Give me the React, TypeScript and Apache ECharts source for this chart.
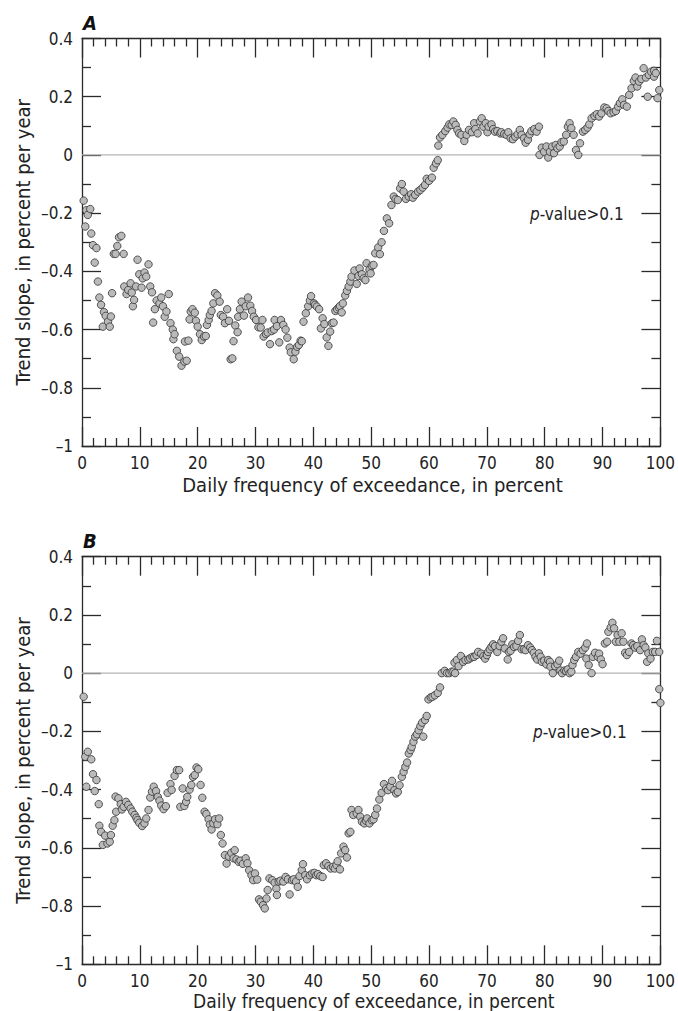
import React, { useEffect, useRef } from "react";
import * as echarts from "echarts";

const FONT = '"Liberation Sans Narrow", "Arial Narrow", "DejaVu Sans Condensed", sans-serif';
const INK = "#222";

const xTicks = { min: 0, max: 100, interval: 10 };
const yTicks = { min: -1, max: 0.4, interval: 0.2 };

const yTitle = "Trend slope, in percent per year";
const xTitle = "Daily frequency of exceedance, in percent";
const note = "p-value>0.1";
const panelLabels = ["A", "B"];

// Panel A: [daily frequency of exceedance (%), trend slope (% per year)]
const slopeA: [number, number][] = [
  [0.29,-0.157],[0.57,-0.246],[0.75,-0.19],[1.0,-0.206],[1.43,-0.186],[1.6,-0.27],[1.9,-0.31],[2.2,-0.37],[2.5,-0.32],
  [2.75,-0.435],[3.0,-0.49],[3.3,-0.515],[3.6,-0.59],[3.8,-0.54],[4.1,-0.553],[4.5,-0.573],[4.8,-0.59],[5.0,-0.555],
  [5.2,-0.475],[5.5,-0.34],[5.8,-0.34],[6.1,-0.313],[6.4,-0.283],[6.8,-0.278],[7.2,-0.34],[7.3,-0.452],[7.7,-0.478],
  [8.0,-0.464],[8.4,-0.441],[8.6,-0.473],[8.8,-0.52],[9.0,-0.498],[9.35,-0.452],[9.6,-0.36],[9.9,-0.41],[10.3,-0.456],
  [10.5,-0.424],[10.8,-0.404],[11.1,-0.418],[11.5,-0.376],[11.8,-0.452],[12.1,-0.472],[12.3,-0.576],[12.6,-0.53],
  [12.9,-0.5],[13.4,-0.51],[13.7,-0.49],[14.0,-0.52],[14.3,-0.556],[14.6,-0.538],[15.0,-0.478],[15.3,-0.578],[15.7,-0.6],
  [15.8,-0.633],[16.0,-0.616],[16.4,-0.673],[16.8,-0.693],[17.2,-0.724],[17.7,-0.71],[17.8,-0.641],[18.1,-0.707],
  [18.4,-0.638],[18.6,-0.565],[18.8,-0.538],[19.1,-0.53],[19.5,-0.542],[19.7,-0.57],[20.0,-0.59],[20.4,-0.616],
  [20.7,-0.636],[21.1,-0.624],[21.4,-0.622],[21.6,-0.584],[21.9,-0.567],[22.1,-0.55],[22.4,-0.536],[22.7,-0.51],
  [23.0,-0.475],[23.4,-0.483],[23.8,-0.504],[24.0,-0.55],[24.4,-0.556],[24.7,-0.578],[25.1,-0.53],[25.4,-0.57],
  [25.7,-0.702],[26.0,-0.699],[26.2,-0.64],[26.5,-0.586],[26.9,-0.609],[27.0,-0.556],[27.3,-0.53],[27.6,-0.504],
  [28.0,-0.552],[28.3,-0.52],[28.7,-0.49],[29.1,-0.518],[29.4,-0.536],[29.7,-0.556],[30.1,-0.567],[30.5,-0.592],
  [30.9,-0.593],[31.2,-0.567],[31.4,-0.624],[31.8,-0.615],[32.1,-0.61],[32.5,-0.65],[32.8,-0.605],[33.2,-0.6],
  [33.3,-0.567],[33.7,-0.588],[34.1,-0.644],[34.4,-0.567],[34.8,-0.584],[35.2,-0.6],[35.5,-0.628],[35.9,-0.662],
  [36.1,-0.678],[36.6,-0.702],[36.9,-0.676],[37.2,-0.659],[37.5,-0.653],[37.8,-0.638],[38.0,-0.64],[38.3,-0.573],
  [38.7,-0.544],[39.1,-0.52],[39.4,-0.5],[39.6,-0.485],[40.1,-0.51],[40.3,-0.515],[40.6,-0.521],[41.0,-0.53],
  [41.3,-0.596],[41.6,-0.561],[41.9,-0.581],[42.3,-0.627],[42.6,-0.656],[42.9,-0.607],[43.2,-0.578],[43.5,-0.576],
  [43.8,-0.536],[44.1,-0.53],[44.4,-0.524],[44.6,-0.519],[44.9,-0.541],[45.1,-0.51],[45.5,-0.483],[45.8,-0.467],
  [46.1,-0.452],[46.4,-0.435],[46.6,-0.418],[47.1,-0.397],[47.5,-0.443],[47.8,-0.416],[48.0,-0.39],[48.4,-0.41],
  [48.7,-0.424],[49.0,-0.43],[49.2,-0.372],[49.7,-0.395],[49.9,-0.407],[50.1,-0.381],[50.4,-0.378],[50.7,-0.338],
  [51.2,-0.318],[51.5,-0.341],[51.8,-0.3],[52.2,-0.261],[52.7,-0.218],[53.1,-0.235],[53.5,-0.172],[53.9,-0.143],
  [54.2,-0.152],[54.6,-0.155],[55.0,-0.115],[55.3,-0.1],[55.6,-0.126],[56.0,-0.151],[56.5,-0.143],[56.9,-0.135],
  [57.2,-0.147],[57.6,-0.137],[58.1,-0.126],[58.5,-0.12],[58.9,-0.112],[59.3,-0.103],[59.6,-0.082],[60.0,-0.089],
  [60.5,-0.078],[60.8,-0.044],[61.2,-0.029],[61.5,-0.018],[61.6,0.032],[61.9,0.06],[62.3,0.069],[62.8,0.082],
  [63.2,0.094],[63.5,0.105],[63.9,0.103],[64.2,0.115],[64.6,0.103],[64.9,0.086],[65.2,0.074],[65.6,0.069],
  [66.1,0.048],[66.5,0.069],[66.9,0.086],[67.4,0.078],[67.8,0.109],[68.0,0.089],[68.4,0.074],[68.8,0.115],
  [69.1,0.126],[69.4,0.097],[69.8,0.109],[70.1,0.078],[70.3,0.097],[70.8,0.105],[71.1,0.089],[71.4,0.08],
  [71.8,0.082],[72.3,0.074],[72.5,0.078],[73.0,0.072],[73.4,0.069],[73.7,0.078],[74.1,0.057],[74.5,0.054],
  [74.9,0.063],[75.3,0.071],[75.7,0.086],[76.0,0.069],[76.4,0.057],[76.7,0.042],[77.1,0.052],[77.4,0.071],
  [77.7,0.082],[78.2,0.089],[78.6,0.08],[79.0,0.097],[79.1,0.0],[79.5,0.025],[79.9,0.011],[80.3,0.029],
  [80.6,-0.009],[80.9,0.011],[81.3,0.029],[81.6,0.006],[81.9,0.034],[82.2,0.023],[82.6,0.029],[82.9,0.044],
  [83.3,0.046],[83.7,0.069],[84.0,0.097],[84.3,0.109],[84.6,0.092],[85.0,0.069],[85.4,0.017],[85.8,0.0],
  [86.1,0.04],[86.6,0.08],[87.0,0.086],[87.4,0.094],[87.7,0.105],[88.1,0.126],[88.6,0.134],[89.0,0.14],
  [89.4,0.132],[89.8,0.143],[90.3,0.163],[90.7,0.16],[91.0,0.151],[91.4,0.143],[91.9,0.147],[92.3,0.151],
  [92.7,0.166],[93.0,0.178],[93.4,0.191],[93.7,0.172],[94.2,0.166],[94.6,0.206],[95.0,0.229],[95.4,0.254],
  [95.7,0.266],[96.0,0.235],[96.3,0.252],[96.7,0.261],[97.1,0.298],[97.5,0.266],[97.8,0.2],[98.0,0.275],
  [98.4,0.286],[98.9,0.269],[98.9,0.289],[99.2,0.281],[99.5,0.195],[99.8,0.223]
];

// Panel B
const slopeB: [number, number][] = [
  [0.29,-0.081],[0.57,-0.287],[0.75,-0.39],[1.0,-0.27],[1.6,-0.296],[1.9,-0.347],[2.2,-0.405],[2.5,-0.367],
  [2.9,-0.45],[3.0,-0.524],[3.3,-0.545],[3.6,-0.59],[4.0,-0.558],[4.4,-0.585],[4.8,-0.579],[5.0,-0.556],
  [5.3,-0.524],[5.6,-0.505],[5.8,-0.424],[5.9,-0.476],[6.3,-0.43],[6.7,-0.45],[6.9,-0.468],[7.2,-0.459],
  [7.6,-0.442],[8.0,-0.453],[8.4,-0.465],[8.7,-0.476],[9.1,-0.487],[9.4,-0.497],[9.6,-0.505],[9.9,-0.514],
  [10.4,-0.525],[10.8,-0.516],[11.1,-0.499],[11.5,-0.47],[11.8,-0.427],[12.1,-0.407],[12.4,-0.39],[12.8,-0.405],
  [13.1,-0.425],[13.4,-0.438],[13.7,-0.455],[14.1,-0.467],[14.5,-0.457],[14.8,-0.411],[15.3,-0.381],[15.5,-0.401],
  [16.0,-0.353],[16.4,-0.333],[16.8,-0.333],[17.0,-0.459],[17.4,-0.396],[17.7,-0.456],[18.0,-0.442],[18.2,-0.425],
  [18.6,-0.4],[18.9,-0.384],[19.2,-0.356],[19.5,-0.35],[19.8,-0.324],[20.1,-0.33],[20.5,-0.384],[20.8,-0.428],
  [21.2,-0.476],[21.5,-0.484],[21.9,-0.502],[22.1,-0.52],[22.4,-0.537],[22.7,-0.516],[23.0,-0.502],[23.4,-0.519],
  [23.7,-0.499],[24.0,-0.556],[24.3,-0.585],[24.7,-0.625],[25.0,-0.654],[25.4,-0.63],[25.8,-0.617],[26.2,-0.636],
  [26.4,-0.608],[26.7,-0.64],[27.1,-0.648],[27.4,-0.644],[27.8,-0.655],[28.3,-0.636],[28.6,-0.653],[28.9,-0.677],
  [29.3,-0.694],[29.6,-0.711],[29.9,-0.688],[30.3,-0.709],[30.6,-0.777],[30.9,-0.785],[31.3,-0.797],[31.6,-0.808],
  [31.9,-0.774],[32.1,-0.745],[32.4,-0.705],[32.9,-0.711],[33.3,-0.72],[33.6,-0.74],[33.7,-0.762],[34.0,-0.716],
  [34.3,-0.713],[34.8,-0.716],[35.2,-0.7],[35.6,-0.708],[35.9,-0.76],[36.3,-0.711],[36.6,-0.708],[37.0,-0.716],
  [37.3,-0.734],[37.6,-0.697],[38.0,-0.676],[38.2,-0.656],[38.6,-0.694],[38.9,-0.708],[39.4,-0.694],[39.8,-0.688],
  [40.2,-0.686],[40.5,-0.694],[40.8,-0.69],[41.2,-0.697],[41.6,-0.7],[41.8,-0.659],[42.2,-0.653],[42.6,-0.663],
  [43.0,-0.671],[43.4,-0.665],[43.7,-0.671],[44.0,-0.659],[44.2,-0.646],[44.6,-0.674],[44.8,-0.619],[45.2,-0.596],
  [45.5,-0.608],[45.8,-0.633],[46.1,-0.55],[46.4,-0.545],[46.6,-0.47],[46.9,-0.487],[47.5,-0.482],[47.8,-0.47],
  [48.1,-0.493],[48.4,-0.51],[48.8,-0.516],[49.1,-0.507],[49.3,-0.499],[49.7,-0.516],[50.1,-0.505],[50.4,-0.502],
  [50.7,-0.487],[51.0,-0.465],[51.4,-0.434],[51.8,-0.411],[52.2,-0.381],[52.6,-0.396],[52.9,-0.402],[53.3,-0.39],
  [53.6,-0.37],[54.0,-0.402],[54.3,-0.413],[54.6,-0.408],[54.9,-0.385],[55.3,-0.356],[55.6,-0.339],[55.9,-0.322],
  [56.2,-0.307],[56.5,-0.276],[56.8,-0.264],[57.0,-0.253],[57.3,-0.236],[57.6,-0.218],[57.9,-0.21],[58.2,-0.196],
  [58.5,-0.182],[58.8,-0.17],[59.0,-0.218],[59.3,-0.161],[59.6,-0.147],[59.9,-0.09],[60.3,-0.083],[60.6,-0.081],
  [61.0,-0.076],[61.5,-0.068],[61.9,-0.049],[62.2,0.0],[62.7,0.008],[63.1,0.0],[63.5,0.0],[63.9,0.005],
  [64.2,0.005],[64.4,0.036],[64.5,0.0],[64.8,0.045],[65.1,0.024],[65.5,0.059],[65.9,0.039],[66.3,0.045],
  [66.8,0.047],[67.1,0.051],[67.5,0.056],[67.8,0.056],[68.2,0.062],[68.5,0.073],[69.0,0.067],[69.4,0.058],
  [69.7,0.05],[70.0,0.062],[70.2,0.073],[70.5,0.082],[70.8,0.091],[71.1,0.099],[71.4,0.093],[71.8,0.073],
  [72.2,0.093],[72.5,0.108],[72.8,0.12],[73.1,0.085],[73.6,0.047],[73.8,0.073],[74.1,0.077],[74.4,0.099],
  [74.7,0.09],[75.1,0.093],[75.4,0.111],[75.7,0.131],[76.0,0.082],[76.4,0.082],[76.7,0.079],[77.1,0.096],
  [77.5,0.088],[77.8,0.079],[78.1,0.07],[78.4,0.056],[78.7,0.047],[79.0,0.068],[79.3,0.056],[79.5,0.039],
  [79.9,0.043],[80.3,0.03],[80.6,0.045],[80.9,0.039],[81.0,0.022],[81.4,0.0],[81.8,0.024],[82.2,0.031],
  [82.5,0.043],[82.7,0.009],[83.0,0.0],[83.4,0.009],[83.7,0.007],[84.0,0.013],[84.3,0.0],[84.6,0.005],
  [84.8,0.028],[85.1,0.045],[85.4,0.056],[85.8,0.073],[86.2,0.067],[86.6,0.079],[87.0,0.088],[87.2,0.05],
  [87.3,0.102],[87.6,0.028],[88.1,0.0],[88.3,0.056],[88.7,0.07],[89.2,0.056],[89.4,0.067],[89.7,0.047],
  [90.0,0.031],[90.4,0.102],[90.8,0.108],[91.0,0.142],[91.4,0.157],[91.7,0.173],[92.0,0.154],[92.3,0.108],
  [92.6,0.131],[92.9,0.108],[93.3,0.137],[93.6,0.108],[93.9,0.07],[94.2,0.062],[94.6,0.073],[95.0,0.102],
  [95.3,0.096],[95.6,0.088],[96.0,0.093],[96.5,0.079],[96.8,0.116],[97.1,0.096],[97.4,0.088],[97.7,0.039],
  [97.9,0.068],[98.3,0.05],[98.7,0.073],[99.1,0.073],[99.4,0.111],[99.8,0.073],[99.8,-0.055],[100.0,-0.102]
];

const panels = [
  { data: slopeA, top: 38.5, height: 407.5, width: 581, titleGap: 39, titleSize: 20 },
  { data: slopeB, top: 556.7, height: 407.6, width: 583.5, titleGap: 36.5, titleSize: 19 },
];

const LEFT = 82;

function fmtY(v: number) {
  const r = Math.round(v * 10) / 10;
  if (r === 0) return "0";
  const s = String(Math.abs(r));
  return r < 0 ? "\u2013" + s : s;
}

export default function App() {
  const ref = useRef<HTMLDivElement>(null);
  useEffect(() => {
    document.body.style.margin = "0";
    if (!ref.current) return;
    const chart = echarts.init(ref.current, undefined, { renderer: "svg" });
    const line = { color: "#2a2a2a", width: 1.3 };
    const grids: any[] = [];
    const xAxes: any[] = [];
    const yAxes: any[] = [];
    const series: any[] = [];
    const graphics: any[] = [];
    panels.forEach((p, i) => {
      grids.push({ left: LEFT, top: p.top, width: p.width, height: p.height, containLabel: false });
      ["bottom", "top"].forEach((pos) => {
        xAxes.push({
          gridIndex: i, type: "value", position: pos, ...xTicks,
          axisLine: { show: true, onZero: false, lineStyle: line },
          axisTick: { show: true, inside: true, length: 19, lineStyle: line },
          minorTick: { show: true, splitNumber: 5, length: 8, lineStyle: line },
          axisLabel: { show: pos === "bottom", margin: 8, fontSize: 17, color: INK, fontFamily: FONT },
          splitLine: { show: false }, minorSplitLine: { show: false },
        });
      });
      ["left", "right"].forEach((pos) => {
        yAxes.push({
          gridIndex: i, type: "value", position: pos, ...yTicks,
          axisLine: { show: true, onZero: false, lineStyle: line },
          axisTick: { show: true, inside: true, length: 19, lineStyle: line },
          minorTick: { show: true, splitNumber: 2, length: 9, lineStyle: line },
          axisLabel: { show: pos === "left", margin: 9, fontSize: 17, color: INK, fontFamily: FONT, formatter: fmtY },
          splitLine: { show: false }, minorSplitLine: { show: false },
        });
      });
      series.push({
        type: "line", xAxisIndex: i * 2, yAxisIndex: i * 2, data: [[xTicks.min, 0], [xTicks.max, 0]],
        symbol: "none", silent: true, z: 1, lineStyle: { color: "#b4b4b4", width: 1.3 },
      });
      series.push({
        type: "scatter", xAxisIndex: i * 2, yAxisIndex: i * 2, data: p.data, clip: false,
        symbol: "circle", symbolSize: 7.5, z: 3,
        itemStyle: { color: "#bababa", borderColor: "#333333", borderWidth: 0.8, opacity: 1 },
      });
      const cy = p.top + p.height / 2;
      const cx = LEFT + p.width / 2;
      graphics.push({
        type: "text", x: 23, y: cy, rotation: Math.PI / 2,
        style: { text: yTitle, fontSize: 20, fontFamily: FONT, fill: INK, textAlign: "center", textVerticalAlign: "middle" },
      });
      graphics.push({
        type: "text", x: cx, y: p.top + p.height + p.titleGap,
        style: { text: xTitle, fontSize: p.titleSize, fontFamily: FONT, fill: INK, textAlign: "center", textVerticalAlign: "middle" },
      });
      graphics.push({
        type: "text", x: 83, y: p.top - 16,
        style: { text: panelLabels[i], fontSize: 20, fontWeight: "bold", fontStyle: "italic", fontFamily: FONT, fill: "#111", textAlign: "left", textVerticalAlign: "middle" },
      });
      graphics.push({
        type: "text", x: LEFT + 448 + i * 3, y: p.top + 175,
        style: {
          text: "{i|p}" + note.slice(1), fontSize: 17, fontFamily: FONT, fill: INK, textAlign: "left", textVerticalAlign: "middle",
          rich: { i: { fontStyle: "italic", fontSize: 17, fontFamily: FONT, fill: INK } },
        },
      });
    });
    chart.setOption({
      animation: false,
      backgroundColor: "#ffffff",
      grid: grids, xAxis: xAxes, yAxis: yAxes, series, graphic: graphics,
    });
    return () => chart.dispose();
  }, []);
  return <div ref={ref} style={{ width: 678, height: 1011 }} />;
}
